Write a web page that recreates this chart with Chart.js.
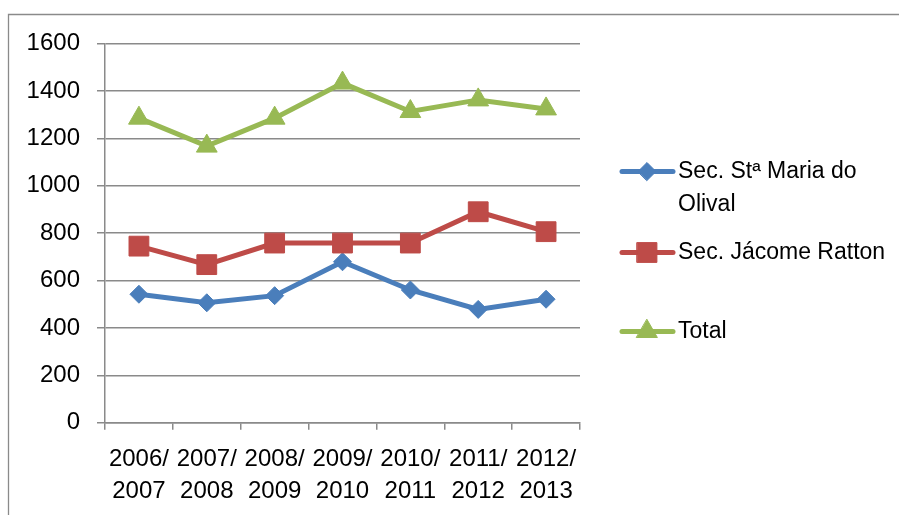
<!DOCTYPE html>
<html>
<head>
<meta charset="utf-8">
<script src="https://cdn.jsdelivr.net/npm/chart.js@4.4.1/dist/chart.umd.min.js"></script>
<style>
  html, body { margin: 0; padding: 0; background: #ffffff; }
  #wrap { position: relative; width: 899px; height: 515px; }
</style>
</head>
<body>
<div id="wrap"><canvas id="c" width="899" height="515"></canvas></div>
<script>
const categories = [
  ['2006/', '2007'], ['2007/', '2008'], ['2008/', '2009'], ['2009/', '2010'],
  ['2010/', '2011'], ['2011/', '2012'], ['2012/', '2013']
];
const seriesNames = ['Sec. Stª Maria do Olival', 'Sec. Jácome Ratton', 'Total'];
const legendLines = [['Sec. Stª Maria do', 'Olival'], ['Sec. Jácome Ratton'], ['Total']];
const stMaria = [542, 506, 536, 679, 560, 478, 521];
const jacomeRatton = [745, 667, 758, 758, 758, 890, 806];
const total = [1285, 1167, 1285, 1433, 1313, 1362, 1324];
const yTicks = [0, 200, 400, 600, 800, 1000, 1200, 1400, 1600];

const colors = ['#4A7EBB', '#BE4B48', '#98B954'];
const styles = ['rectRot', 'rect', 'triangle'];
const radii = [9, 14, 12];
const FONT = '"Liberation Sans", Arial, sans-serif';
const GRID = '#8a8a8a';

const frame = {
  id: 'frame',
  beforeDraw(chart) {
    const ctx = chart.ctx;
    ctx.save();
    ctx.strokeStyle = GRID;
    ctx.lineWidth = 1.3;
    ctx.beginPath();
    ctx.moveTo(8.5, 515);
    ctx.lineTo(8.5, 14.5);
    ctx.lineTo(899, 14.5);
    ctx.stroke();
    ctx.restore();
  }
};

const customLegend = {
  id: 'customLegend',
  afterDraw(chart) {
    const ctx = chart.ctx;
    const ys = [171.5, 252.5, 331.5];
    ctx.save();
    chart.data.datasets.forEach((ds, i) => {
      const y = ys[i];
      ctx.strokeStyle = ds.borderColor;
      ctx.lineWidth = 5;
      ctx.lineCap = 'round';
      ctx.beginPath();
      ctx.moveTo(622, y);
      ctx.lineTo(673, y);
      ctx.stroke();
      ctx.fillStyle = ds.borderColor;
      ctx.strokeStyle = ds.borderColor;
      ctx.lineWidth = 1;
      Chart.helpers.drawPoint(ctx, { pointStyle: ds.pointStyle, radius: ds.pointRadius, rotation: 0, borderWidth: 1 }, 647, y);
      ctx.fillStyle = '#000000';
      ctx.font = '23px ' + FONT;
      ctx.textBaseline = 'middle';
      ctx.textAlign = 'left';
      legendLines[i].forEach((t, k) => ctx.fillText(t, 678, y + k * 33));
    });
    ctx.restore();
  }
};

const datasets = [stMaria, jacomeRatton, total].map((vals, i) => ({
  label: seriesNames[i],
  data: vals,
  borderColor: colors[i],
  backgroundColor: colors[i],
  borderWidth: 5,
  pointStyle: styles[i],
  pointRadius: radii[i],
  pointHoverRadius: radii[i],
  pointBorderWidth: 1,
  pointBackgroundColor: colors[i],
  pointBorderColor: colors[i],
  tension: 0,
  order: 3 - i
}));

new Chart(document.getElementById('c'), {
  type: 'line',
  data: { labels: categories, datasets },
  options: {
    responsive: false,
    animation: false,
    devicePixelRatio: 1,
    layout: { padding: { left: 0, top: 43.5, right: 319, bottom: 0 } },
    plugins: { legend: { display: false }, tooltip: { enabled: false } },
    scales: {
      x: {
        type: 'category',
        offset: true,
        grid: { display: true, offset: true, drawOnChartArea: false, drawTicks: true, tickLength: 7, color: GRID, lineWidth: 1.5 },
        border: { display: true, color: GRID, width: 1.5 },
        ticks: { color: '#000', font: { family: FONT, size: 24, lineHeight: 1.33 }, maxRotation: 0, minRotation: 0, autoSkip: false, padding: 14 },
        afterFit(scale) { scale.height = 515 - 422.7; }
      },
      y: {
        min: 0, max: 1600,
        afterBuildTicks(scale) { scale.ticks = yTicks.map(v => ({ value: v })); },
        grid: { color: GRID, lineWidth: 1.5, drawTicks: true, tickLength: 8 },
        border: { display: true, color: GRID, width: 1.5 },
        ticks: { color: '#000', font: { family: FONT, size: 24 }, padding: 17, callback: (v) => String(v) },
        afterFit(scale) { scale.width = 105; }
      }
    }
  },
  plugins: [frame, customLegend]
});
</script>
</body>
</html>
